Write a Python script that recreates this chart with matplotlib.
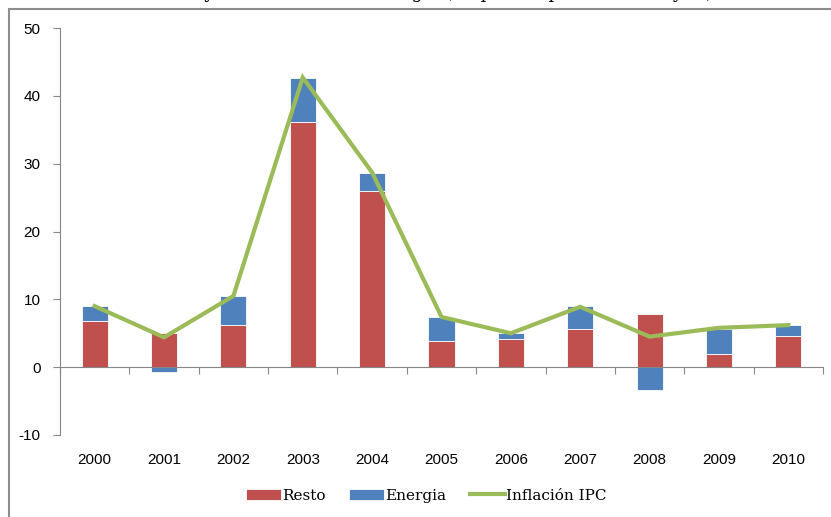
import numpy as np
import matplotlib
matplotlib.use("Agg")
import matplotlib.pyplot as plt
from matplotlib.patches import Rectangle
from matplotlib.transforms import blended_transform_factory

plt.rcParams["axes.unicode_minus"] = False

years = ["2000", "2001", "2002", "2003", "2004", "2005",
         "2006", "2007", "2008", "2009", "2010"]
resto = [6.8, 5.1, 6.2, 36.2, 26.0, 3.8, 4.2, 5.6, 7.9, 2.0, 4.6]
energia = [2.2, -0.7, 4.3, 6.5, 2.6, 3.6, 0.8, 3.4, -3.4, 3.7, 1.6]
inflacion = [9.0, 4.4, 10.5, 42.7, 28.7, 7.4, 5.0, 8.9, 4.5, 5.8, 6.2]

RED = "#C0504D"
BLUE = "#4F81BD"
GREEN = "#9BBB59"
GRAY = "#868686"

fig = plt.figure(figsize=(8.31, 5.17), dpi=100)
ax = fig.add_axes([60 / 831, 82 / 517, 763 / 831, 407 / 517])

x = np.arange(len(years))
resto = np.array(resto)
energia = np.array(energia)
# negative energy contributions hang below zero, positive ones sit on top of "Resto"
base = np.where(energia >= 0, resto, 0.0)

b1 = ax.bar(x, resto, width=0.375, color=RED, edgecolor="white", linewidth=0.6,
            label="Resto", zorder=2)
b2 = ax.bar(x, energia, width=0.375, bottom=base, color=BLUE, edgecolor="white",
            linewidth=0.6, label="Energia", zorder=2)
l1, = ax.plot(x, inflacion, color=GREEN, linewidth=3, label="Inflación IPC",
              solid_joinstyle="miter", zorder=3)

ax.set_xlim(-0.5, len(years) - 0.5)
ax.set_ylim(-10, 50)
ax.set_yticks(range(-10, 51, 10))

for side in ("top", "right"):
    ax.spines[side].set_visible(False)
ax.spines["left"].set_color(GRAY)
ax.spines["bottom"].set_color(GRAY)
ax.spines["bottom"].set_position(("data", 0))

ax.set_xticks(np.arange(-0.5, len(years), 1.0))
ax.set_xticklabels([])
ax.tick_params(axis="x", direction="out", length=5, color=GRAY)
ax.tick_params(axis="y", direction="out", length=5, color=GRAY, pad=9,
               labelsize=11)
for lab in ax.get_yticklabels():
    lab.set_fontfamily("Liberation Sans")

# year labels sit below the plot, not on the zero line
trans = blended_transform_factory(ax.transData, ax.transAxes)
for xi, yr in zip(x, years):
    ax.text(xi, -25 / 407, yr, transform=trans, ha="center", va="center",
            fontsize=11, family="Liberation Sans")

# chart border and cut title
fig.patches.append(Rectangle((9 / 831, -0.1), 1.2, 1 - 9 / 517 + 0.1,
                             transform=fig.transFigure, fill=False,
                             edgecolor="#8c8c8c", linewidth=1.5))
fig.text(0.5, 1.003, "Inflación y contribución de energía (en puntos porcentuales y %)",
         ha="center", va="baseline", fontsize=13, family="DejaVu Serif")

fig.legend([b1, b2, l1], ["Resto", "Energia", "Inflación IPC"],
           loc="center", bbox_to_anchor=(0.513, 0.041), ncol=3, frameon=False,
           prop={"family": "DejaVu Serif", "size": 11}, handlelength=2.3,
           handleheight=0.8, handletextpad=0.1, columnspacing=1.5)

fig.savefig("out.png", dpi=100)
